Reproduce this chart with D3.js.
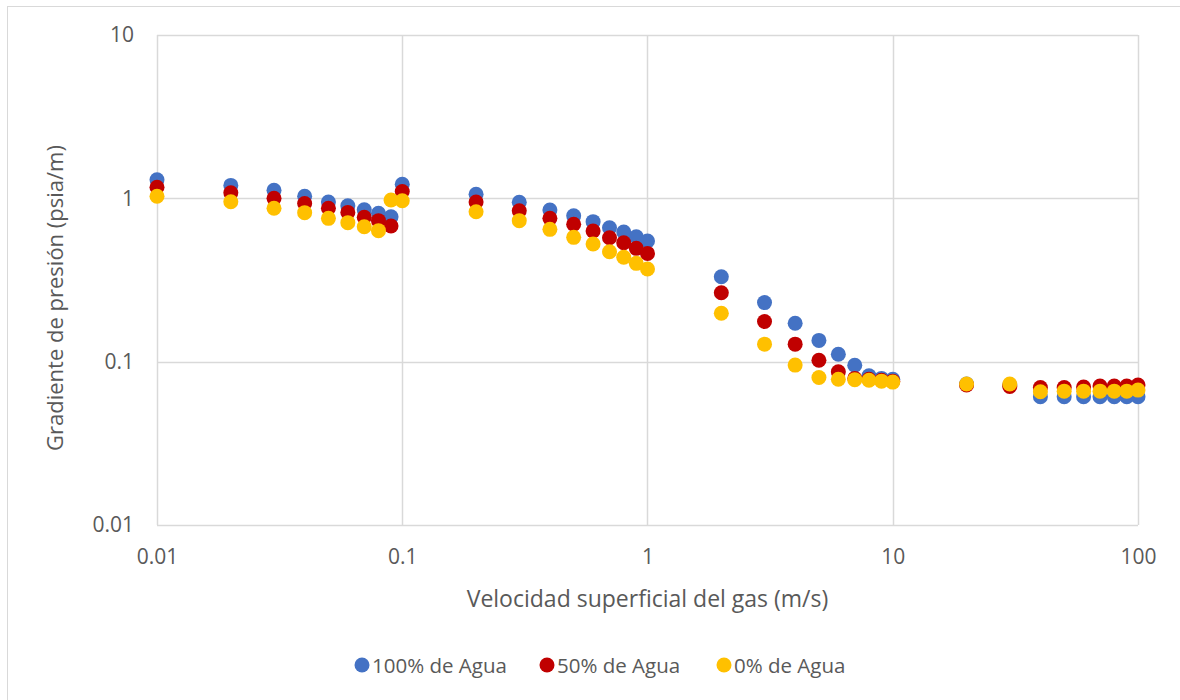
<!DOCTYPE html>
<html><head><meta charset="utf-8">
<script src="https://cdn.jsdelivr.net/npm/d3@7"></script>
<style>body{margin:0;background:#fff;} text{font-family:"Open Sans",sans-serif;fill:#595959;}</style>
</head><body><svg id="c" width="1180" height="700"></svg>
<script>
const xVals = [0.01,0.02,0.03,0.04,0.05,0.06,0.07,0.08,0.09,0.1,0.2,0.3,0.4,0.5,0.6,0.7,0.8,0.9,1,2,3,4,5,6,7,8,9,10,20,30,40,50,60,70,80,90,100];
const agua100 = [1.30,1.20,1.12,1.03,0.95,0.90,0.85,0.81,0.77,1.22,1.06,0.946,0.848,0.782,0.72,0.661,0.622,0.582,0.548,0.331,0.23,0.172,0.135,0.111,0.095,0.082,0.079,0.078,0.073,0.072,0.061,0.061,0.061,0.061,0.061,0.061,0.061];
const agua50 = [1.17,1.08,1.0,0.93,0.87,0.82,0.765,0.73,0.677,1.10,0.949,0.84,0.754,0.694,0.631,0.574,0.535,0.494,0.46,0.264,0.176,0.128,0.102,0.0867,0.079,0.078,0.077,0.076,0.072,0.0705,0.0695,0.0695,0.07,0.071,0.071,0.071,0.072];
const agua0 = [1.03,0.953,0.869,0.817,0.754,0.71,0.67,0.634,0.976,0.967,0.828,0.73,0.646,0.577,0.525,0.471,0.436,0.40,0.369,0.198,0.128,0.0953,0.080,0.078,0.0776,0.077,0.076,0.075,0.073,0.073,0.0655,0.066,0.066,0.066,0.066,0.066,0.067];
const seriesNames = ["100% de Agua","50% de Agua","0% de Agua"];
const seriesColors = ["#4472C4","#C00000","#FFC000"];
const xTicks = [0.01,0.1,1,10,100];
const yTicks = [0.01,0.1,1,10];
const xTickLabels = ["0.01","0.1","1","10","100"];
const yTickLabels = ["0.01","0.1","1","10"];

const svg = d3.select("#c");
// outer chart border (left/top visible)
svg.append("rect").attr("x",7.5).attr("y",6.5).attr("width",1200).attr("height",720)
  .attr("fill","none").attr("stroke","#d9d9d9").attr("stroke-width",1);

const L=157, R=1138, T=35, B=525;
const x = d3.scaleLog().domain([0.01,100]).range([L,R]);
const y = d3.scaleLog().domain([0.01,10]).range([B,T]);

const g = svg.append("g");
// gridlines
g.selectAll(".vg").data(xTicks).join("line")
  .attr("x1",d=>Math.round(x(d))+0.5).attr("x2",d=>Math.round(x(d))+0.5)
  .attr("y1",T).attr("y2",B).attr("stroke","#d9d9d9").attr("stroke-width",1.5);
g.selectAll(".hg").data(yTicks).join("line")
  .attr("y1",d=>Math.round(y(d))+0.5).attr("y2",d=>Math.round(y(d))+0.5)
  .attr("x1",L).attr("x2",R).attr("stroke","#d9d9d9").attr("stroke-width",1.5);

// axes labels via d3 axes
const xAxis = d3.axisBottom(x).tickValues(xTicks).tickFormat((d,i)=>xTickLabels[i]).tickSize(0).tickPadding(24);
const ax = svg.append("g").attr("transform",`translate(0,${B})`).call(xAxis);
ax.select(".domain").remove();
ax.selectAll("text").attr("font-size",21).attr("font-family","Open Sans").attr("fill","#595959");
const yAxis = d3.axisLeft(y).tickValues(yTicks).tickFormat((d,i)=>yTickLabels[i]).tickSize(0).tickPadding(23);
const ay = svg.append("g").attr("transform",`translate(${L},0)`).call(yAxis);
ay.select(".domain").remove();
ay.selectAll("text").attr("font-size",21).attr("font-family","Open Sans").attr("fill","#595959");

// points
const series = [agua100, agua50, agua0];
series.forEach((vals,si)=>{
  svg.append("g").selectAll("circle").data(vals).join("circle")
    .attr("cx",(d,i)=>x(xVals[i])).attr("cy",d=>y(d)).attr("r",7.5)
    .attr("fill",seriesColors[si]);
});

// axis titles
svg.append("text").attr("x",(L+R)/2).attr("y",607).attr("text-anchor","middle")
  .attr("font-size",23).text("Velocidad superficial del gas (m/s)");
svg.append("text").attr("transform",`translate(63,298) rotate(-90)`).attr("text-anchor","middle")
  .attr("font-size",22).text("Gradiente de presión (psia/m)");

// legend
const legX = [362,547,724];
seriesNames.forEach((n,i)=>{
  svg.append("circle").attr("cx",legX[i]).attr("cy",665).attr("r",7.5).attr("fill",seriesColors[i]);
  svg.append("text").attr("x",legX[i]+10).attr("y",673).attr("font-size",20.5).text(n);
});
</script></body></html>
